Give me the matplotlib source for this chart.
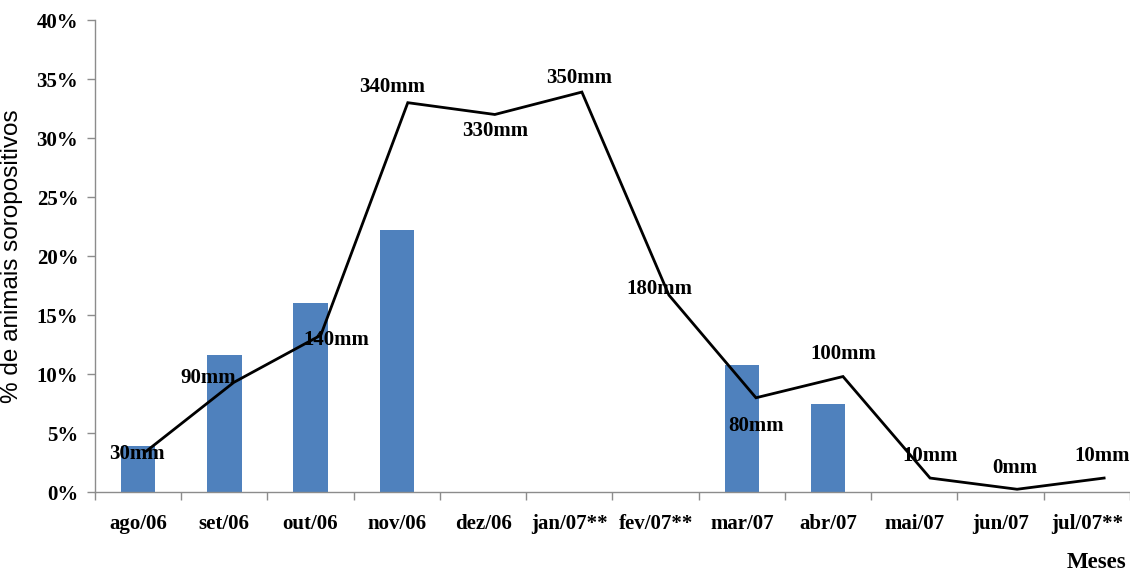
import matplotlib.pyplot as plt
import numpy as np

meses = ["ago/06", "set/06", "out/06", "nov/06", "dez/06", "jan/07**",
         "fev/07**", "mar/07", "abr/07", "mai/07", "jun/07", "jul/07**"]
soropositivos = [3.9, 11.6, 16.0, 22.2, 0, 0, 0, 10.8, 7.5, 0, 0, 0]
chuva_pct = [3.5, 9.3, 13.3, 33.0, 32.0, 33.9, 16.7, 8.0, 9.8, 1.2, 0.25, 1.2]
chuva_rotulos = ["30mm", "90mm", "140mm", "340mm", "330mm", "350mm",
                 "180mm", "80mm", "100mm", "10mm", "0mm", "10mm"]
# label offsets in pixels (dx, dy) relative to each line vertex
rotulo_offset = [(-10, -3), (-26, 4), (16, -5), (-16, 16), (0, -17), (-3, 14),
                 (-10, 6), (0, -28), (0, 23), (0, 22), (-2, 21), (-2, 22)]

plt.rcParams["font.family"] = ["Liberation Serif", "DejaVu Serif"]

dpi = 100
fig = plt.figure(figsize=(1130 / dpi, 573 / dpi), dpi=dpi)
ax = fig.add_axes([0.084, 0.141, 0.916, 0.824])

x = np.arange(len(meses))
ax.bar(x, soropositivos, width=0.4, color="#4F81BD", zorder=2)

# rainfall line sits a bit to the right of the bars, drifting slightly
x_linha = x + 0.1 + x * 0.1 / (len(meses) - 1)
ax.plot(x_linha, chuva_pct, color="black", lw=2.0, zorder=3,
        solid_joinstyle="miter")

px = 72 / dpi
for xi, yi, txt, (dx, dy) in zip(x_linha, chuva_pct, chuva_rotulos, rotulo_offset):
    ax.annotate(txt, (xi, yi), xytext=(dx * px, dy * px),
                textcoords="offset points", ha="center", va="center",
                fontsize=15, fontweight="bold", zorder=4)

ax.set_xlim(-0.5, len(meses) - 0.5)
ax.set_ylim(0, 40)
ax.set_yticks(np.arange(0, 41, 5))
ax.set_yticklabels([f"{v}%" for v in range(0, 41, 5)],
                   fontsize=15, fontweight="bold")
ax.set_xticks(x)
ax.set_xticklabels(meses, fontsize=15, fontweight="bold")
ax.tick_params(axis="x", length=0, pad=16)
ax.set_xticks(np.arange(-0.5, len(meses), 1), minor=True)
ax.tick_params(axis="x", which="minor", length=6, color="#8c8c8c", width=1)
ax.tick_params(axis="y", length=6, color="#8c8c8c", width=1, pad=6)

for side in ["top", "right"]:
    ax.spines[side].set_visible(False)
for side in ["left", "bottom"]:
    ax.spines[side].set_color("#8c8c8c")
    ax.spines[side].set_linewidth(1)

ax.set_ylabel("% de animais soropositivos", fontsize=17.5, labelpad=10,
              family=["Liberation Sans", "DejaVu Sans"])
fig.text(0.997, 0.0, "Meses", ha="right", va="bottom", fontsize=16.5,
         fontweight="bold")

fig.savefig("out.png", dpi=dpi)
